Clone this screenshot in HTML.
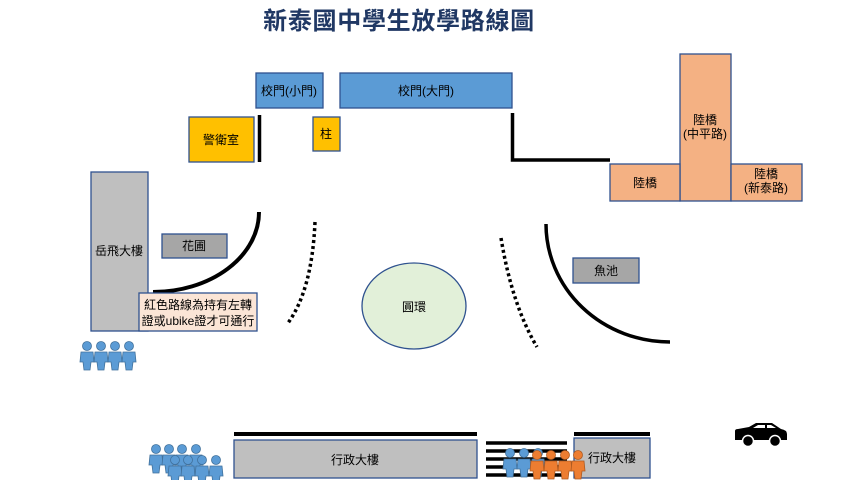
<!DOCTYPE html>
<html><head><meta charset="utf-8"><style>
body{margin:0;width:853px;height:480px;background:#fff;overflow:hidden;font-family:"Liberation Sans","Noto Sans CJK TC",sans-serif}
</style></head><body>
<svg width="853" height="480" viewBox="0 0 853 480" xmlns="http://www.w3.org/2000/svg" font-family="Liberation Sans, Noto Sans CJK TC, sans-serif">
<defs>
<g id="p"><circle cx="0" cy="-10" r="4.5"/><path d="M-6,-4 H6 L7,6 H4 L3,14 H-3 L-4,6 H-7 Z"/></g>
</defs>
<text x="399" y="29" text-anchor="middle" font-size="24" font-weight="bold" fill="#203864" letter-spacing="0.7">新泰國中學生放學路線圖</text>
<g stroke="#2f528f" stroke-width="1.3" font-size="12" text-anchor="middle">
<rect x="256" y="73" width="67" height="35" fill="#5b9bd5"/>
<rect x="340" y="73" width="172" height="35" fill="#5b9bd5"/>
<rect x="189" y="117" width="65" height="45" fill="#ffc000"/>
<rect x="313" y="117" width="27" height="34" fill="#ffc000"/>
<rect x="680" y="54" width="51" height="147" fill="#f4b183"/>
<rect x="610" y="164" width="70" height="37" fill="#f4b183"/>
<rect x="731" y="164" width="71" height="37" fill="#f4b183"/>
<rect x="91" y="172" width="57" height="159" fill="#bfbfbf"/>
<rect x="162" y="234" width="65" height="24" fill="#a6a6a6"/>
<rect x="573" y="258" width="66" height="25" fill="#a6a6a6"/>
<rect x="234" y="440" width="243" height="38" fill="#bfbfbf"/>
<rect x="574" y="438" width="76" height="40" fill="#bfbfbf"/>
<ellipse cx="414" cy="306" rx="52" ry="43" fill="#e2f0d9"/>
</g>
<g stroke="#000" fill="none">
<line x1="259.5" y1="115" x2="259.5" y2="162" stroke-width="3.5"/>
<path d="M512.5,113 V160 H610" stroke-width="3.5"/>
<path d="M259,212 A106,80 0 0 1 153,292" stroke-width="4"/>
<path d="M546,224 A124,118 0 0 0 670,342" stroke-width="3.5"/>
<path d="M315,222 Q312,290 288,323" stroke-width="3.5" stroke-dasharray="3,3"/>
<path d="M501,238 Q512,305 537,347" stroke-width="3.5" stroke-dasharray="3,3"/>
<line x1="234" y1="434" x2="477" y2="434" stroke-width="4"/>
<line x1="574" y1="434" x2="650" y2="434" stroke-width="4"/>
<g stroke-width="3.5"><line x1="486" y1="443" x2="567" y2="443"/><line x1="486" y1="451" x2="567" y2="451"/><line x1="486" y1="459" x2="567" y2="459"/><line x1="486" y1="467" x2="567" y2="467"/><line x1="486" y1="475" x2="567" y2="475"/></g>
</g>
<rect x="139" y="293" width="118" height="38" fill="#fbe5d6" stroke="#2f528f" stroke-width="1.3"/>
<g font-size="12" fill="#000" text-anchor="middle">
<text x="289" y="95">校門(小門)</text>
<text x="426" y="95">校門(大門)</text>
<text x="221" y="144">警衛室</text>
<text x="326" y="138">柱</text>
<text x="705" y="124">陸橋</text><text x="705" y="138">(中平路)</text>
<text x="645" y="187">陸橋</text>
<text x="766" y="178">陸橋</text><text x="766" y="192">(新泰路)</text>
<text x="119" y="255">岳飛大樓</text>
<text x="194" y="250">花圃</text>
<text x="606" y="275">魚池</text>
<text x="414" y="311">圓環</text>
<text x="198" y="309">紅色路線為持有左轉</text>
<text x="198" y="325">證或ubike證才可通行</text>
<text x="355" y="464">行政大樓</text>
<text x="612" y="462">行政大樓</text>
</g>
<g fill="#5b9bd5" stroke="#41719c" stroke-width="0.8">
<use href="#p" x="87" y="356"/><use href="#p" x="101" y="356"/><use href="#p" x="115" y="356"/><use href="#p" x="129" y="356"/>
<use href="#p" x="156" y="459"/><use href="#p" x="169" y="459"/><use href="#p" x="182" y="459"/><use href="#p" x="196" y="459"/>
<use href="#p" x="175" y="470"/><use href="#p" x="188" y="470"/><use href="#p" x="202" y="470"/><use href="#p" x="216" y="470"/>
<use href="#p" x="510" y="463"/><use href="#p" x="524" y="463"/><use href="#p" x="538" y="463"/>
</g>
<g fill="#ed7d31" stroke="#ae5a21" stroke-width="0.8">
<use href="#p" x="537" y="465"/><use href="#p" x="551" y="465"/><use href="#p" x="565" y="465"/><use href="#p" x="578" y="465"/>
</g>
<g fill="#000">
<path d="M735,431 Q735,429 738,429 L749,427 L756,423 H772 L781,429 Q787,430 787,434 V440 H735 Z"/>
<circle cx="748" cy="441" r="5.5" stroke="#fff" stroke-width="1.5"/>
<circle cx="775" cy="441" r="5.5" stroke="#fff" stroke-width="1.5"/>
<path d="M753,428 L758,425 H765 V428 Z M767,425 H771 L776,428 H767 Z" fill="#fff"/>
</g>
</svg>
</body></html>
